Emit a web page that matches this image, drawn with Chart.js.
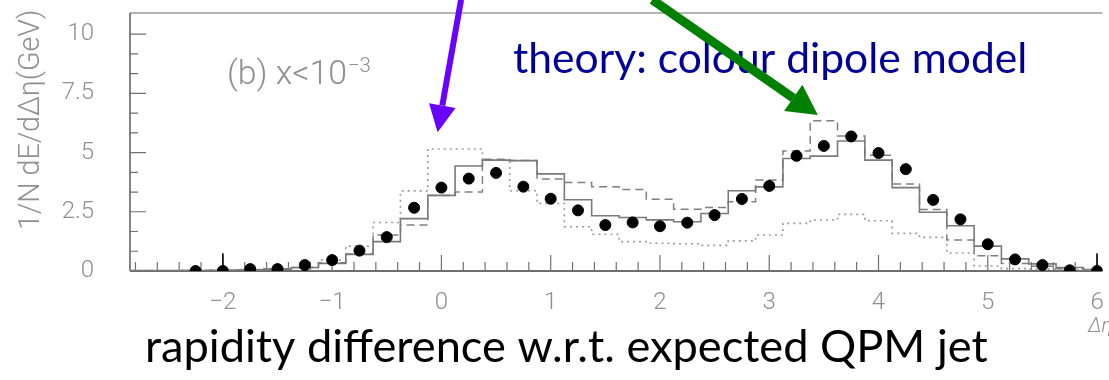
<!DOCTYPE html>
<html>
<head>
<meta charset="utf-8">
<script src="https://cdn.jsdelivr.net/npm/chart.js@4/dist/chart.umd.min.js"></script>
<style>
  html, body { margin: 0; padding: 0; background: #fff; }
  .wrap { position: relative; width: 1109px; height: 380px; }
</style>
</head>
<body>
<div class="wrap"><canvas id="chart" width="1109" height="380"></canvas></div>
<script>
// bin centres in delta eta, bin width 0.25
const etaBins = [-2.75, -2.5, -2.25, -2, -1.75, -1.5, -1.25, -1, -0.75, -0.5, -0.25, 0,
  0.25, 0.5, 0.75, 1, 1.25, 1.5, 1.75, 2, 2.25, 2.5, 2.75, 3,
  3.25, 3.5, 3.75, 4, 4.25, 4.5, 4.75, 5, 5.25, 5.5, 5.75, 6];
const binWidth = 0.25;

// measured points (black dots) and their errors
const dataPoints = [null, null, 0.0, 0.0, 0.08, 0.08, 0.25, 0.46, 0.86, 1.43, 2.67, 3.52,
  3.9, 4.14, 3.56, 3.05, 2.56, 1.94, 2.05, 1.89, 2.04, 2.36, 3.04, 3.59,
  4.86, 5.28, 5.68, 4.98, 4.3, 3.0, 2.18, 1.13, 0.49, 0.25, 0.03, 0.0];
const dataErrors = [0, 0, 0.05, 0.75, 0.05, 0.05, 0.06, 0.08, 0.1, 0.12, 0.15, 0.15,
  0.15, 0.15, 0.15, 0.15, 0.12, 0.12, 0.12, 0.12, 0.12, 0.12, 0.15, 0.15,
  0.18, 0.2, 0.2, 0.2, 0.22, 0.2, 0.15, 0.12, 0.08, 0.06, 0.05, 0.75];

// model histograms
const solidHist = [0.02, 0.02, 0.02, 0.03, 0.05, 0.08, 0.15, 0.32, 0.7, 1.24, 2.21, 3.19,
  4.43, 4.68, 4.66, 4.1, 3.01, 2.33, 2.26, 2.16, 2.08, 2.43, 3.39, 3.55,
  4.75, 4.85, 5.49, 4.68, 3.52, 2.48, 1.91, 1.05, 0.51, 0.3, 0.15, 0.06];
const dashedHist = [0.01, 0.01, 0.02, 0.03, 0.05, 0.08, 0.15, 0.35, 0.72, 1.52, 1.94, 3.19,
  3.33, 4.72, 4.66, 3.88, 3.74, 3.56, 3.44, 3.03, 2.61, 2.68, 2.92, 3.84,
  5.06, 6.34, 5.7, 4.89, 3.67, 2.6, 1.31, 0.64, 0.32, 0.2, 0.1, 0.05];
const dottedHist = [0.02, 0.02, 0.03, 0.04, 0.06, 0.1, 0.14, 0.46, 1.05, 2.05, 3.38, 5.15,
  5.15, 4.68, 3.39, 2.85, 1.87, 1.55, 1.24, 1.17, 1.15, 1.08, 1.27, 1.52,
  2.01, 2.15, 2.39, 2.12, 1.59, 1.42, 0.76, 0.21, 0.1, 0.08, 0.05, 0.03];

const xTicks = [-2, -1, 0, 1, 2, 3, 4, 5, 6];
const yTicks = [0, 2.5, 5, 7.5, 10];

// arrows in data units: [tailX, tailY, tipX, tipY]
const purpleArrow = [0.18, 11.45, -0.035, 5.86];
const greenArrow = [1.93, 11.45, 3.445, 6.58];

const grey = '#8f8f8f';
const axisCol = '#5a5a5a';

function histSteps(values) {
  const pts = etaBins.map((c, i) => ({ x: c - binWidth / 2, y: values[i] }));
  pts.push({ x: etaBins[etaBins.length - 1] + binWidth / 2, y: values[values.length - 1] });
  return pts;
}

function drawArrow(ctx, x1, y1, x2, y2, color, shaft, headLen, headW) {
  const ang = Math.atan2(y2 - y1, x2 - x1);
  const bx = x2 - headLen * Math.cos(ang);
  const by = y2 - headLen * Math.sin(ang);
  ctx.save();
  ctx.strokeStyle = color;
  ctx.fillStyle = color;
  ctx.lineWidth = shaft;
  ctx.beginPath();
  ctx.moveTo(x1, y1);
  ctx.lineTo(bx, by);
  ctx.stroke();
  ctx.beginPath();
  ctx.moveTo(x2, y2);
  ctx.lineTo(bx + headW / 2 * Math.sin(ang), by - headW / 2 * Math.cos(ang));
  ctx.lineTo(bx - headW / 2 * Math.sin(ang), by + headW / 2 * Math.cos(ang));
  ctx.closePath();
  ctx.fill();
  ctx.restore();
}

function fitText(ctx, text, family, weight, baseSize, width) {
  ctx.font = weight + ' ' + baseSize + 'px ' + family;
  const w = ctx.measureText(text).width;
  const size = baseSize * width / w;
  ctx.font = weight + ' ' + size.toFixed(1) + 'px ' + family;
  return size;
}

const frame = {
  id: 'frame',
  beforeDatasetsDraw(chart) {
    const { ctx, chartArea: a, scales: { x, y } } = chart;
    ctx.save();
    // top frame line
    ctx.strokeStyle = '#b4b4b4';
    ctx.lineWidth = 2;
    ctx.beginPath();
    ctx.moveTo(a.left, a.top);
    ctx.lineTo(a.right, a.top);
    ctx.stroke();
    // axes
    ctx.strokeStyle = axisCol;
    ctx.lineWidth = 1.5;
    ctx.beginPath();
    ctx.moveTo(a.left, a.top);
    ctx.lineTo(a.left, a.bottom);
    ctx.stroke();
    ctx.strokeStyle = '#6e6e6e';
    ctx.lineWidth = 2;
    ctx.beginPath();
    ctx.moveTo(a.left, a.bottom);
    ctx.lineTo(a.right, a.bottom);
    ctx.stroke();
    // inward ticks
    ctx.strokeStyle = '#707070';
    ctx.lineWidth = 1.2;
    ctx.beginPath();
    for (let k = 0; k <= 13; k++) {
      const v = k * 2.5 / 3;
      const py = y.getPixelForValue(v);
      if (py < a.top + 2) continue;
      const len = k % 3 === 0 ? 16 : 8;
      ctx.moveTo(a.left, py);
      ctx.lineTo(a.left + len, py);
    }
    for (let k = -14; k <= 30; k++) {
      const v = k * 0.2;
      const px = x.getPixelForValue(v);
      if (px < a.left + 2 || px > a.right) continue;
      const len = k % 5 === 0 ? 16 : 9;
      ctx.moveTo(px, a.bottom);
      ctx.lineTo(px, a.bottom - len);
    }
    ctx.stroke();
    ctx.restore();
  },
  afterDatasetsDraw(chart) {
    const { ctx, scales: { x, y } } = chart;
    ctx.save();
    ctx.strokeStyle = '#000';
    ctx.lineWidth = 1.5;
    ctx.beginPath();
    etaBins.forEach((c, i) => {
      if (dataPoints[i] === null || !dataErrors[i]) return;
      const px = x.getPixelForValue(c);
      ctx.moveTo(px, y.getPixelForValue(dataPoints[i] + dataErrors[i]));
      ctx.lineTo(px, y.getPixelForValue(Math.max(0, dataPoints[i] - dataErrors[i])));
    });
    ctx.stroke();
    ctx.restore();
  },
  afterDraw(chart) {
    const { ctx, scales: { x, y } } = chart;
    ctx.save();
    // y axis title
    ctx.fillStyle = grey;
    ctx.translate(39, 230);
    ctx.rotate(-Math.PI / 2);
    fitText(ctx, '1/N dE/d\u0394\u03b7(GeV)', 'Roboto', 300, 24, 220);
    ctx.textBaseline = 'alphabetic';
    ctx.fillText('1/N dE/d\u0394\u03b7(GeV)', 0, 0);
    ctx.restore();

    ctx.save();
    ctx.fillStyle = grey;
    const s = fitText(ctx, '(b) x<10', 'Roboto', 300, 24, 120);
    ctx.fillText('(b) x<10', 227, 84);
    ctx.font = '300 ' + (s * 0.6).toFixed(1) + 'px Roboto';
    ctx.fillText('\u22123', 348, 72);
    ctx.font = 'italic 300 20px Roboto';
    ctx.fillText('\u0394\u03b7', 1088, 332);

    ctx.fillStyle = '#000099';
    fitText(ctx, 'theory: colour dipole model', 'Lato', 400, 34, 514);
    ctx.fillText('theory: colour dipole model', 513, 73);
    ctx.fillStyle = '#000';
    fitText(ctx, 'rapidity difference w.r.t. expected QPM jet', 'Lato', 400, 34, 843);
    ctx.fillText('rapidity difference w.r.t. expected QPM jet', 145, 362);
    ctx.restore();

    drawArrow(ctx, x.getPixelForValue(purpleArrow[0]), y.getPixelForValue(purpleArrow[1]),
      x.getPixelForValue(purpleArrow[2]), y.getPixelForValue(purpleArrow[3]), '#6a00ff', 6, 27, 27);
    drawArrow(ctx, x.getPixelForValue(greenArrow[0]), y.getPixelForValue(greenArrow[1]),
      x.getPixelForValue(greenArrow[2]), y.getPixelForValue(greenArrow[3]), '#008000', 9, 30, 32);
  }
};

new Chart(document.getElementById('chart'), {
  type: 'scatter',
  data: {
    datasets: [
      {
        label: 'data',
        data: etaBins.map((c, i) => ({ x: c, y: dataPoints[i] })).filter(p => p.y !== null),
        backgroundColor: '#000',
        borderColor: '#000',
        pointRadius: 5.5,
        showLine: false
      },
      {
        label: 'solid',
        data: histSteps(solidHist),
        showLine: true,
        stepped: 'before',
        borderColor: '#7a7a7a',
        borderWidth: 1.6,
        pointRadius: 0
      },
      {
        label: 'dashed',
        data: histSteps(dashedHist),
        showLine: true,
        stepped: 'before',
        borderColor: '#808080',
        borderWidth: 1.5,
        borderDash: [8, 5],
        pointRadius: 0
      },
      {
        label: 'dotted',
        data: histSteps(dottedHist),
        showLine: true,
        stepped: 'before',
        borderColor: '#9a9a9a',
        borderWidth: 1.6,
        borderDash: [2, 4],
        pointRadius: 0
      }
    ]
  },
  options: {
    responsive: false,
    animation: false,
    devicePixelRatio: 1,
    layout: { padding: { top: 13, right: 0, left: 0, bottom: 0 } },
    plugins: { legend: { display: false }, tooltip: { enabled: false } },
    scales: {
      x: {
        type: 'linear',
        min: -2.85,
        max: 6.05,
        grid: { display: false },
        border: { display: false },
        afterBuildTicks: s => { s.ticks = xTicks.map(v => ({ value: v })); },
        afterFit: s => { s.height = 109; s.paddingLeft = 0; s.paddingRight = 0; },
        ticks: {
          padding: 10,
          color: grey,
          font: { family: 'Roboto', weight: 300, size: 24 },
          maxRotation: 0,
          callback: v => String(v).replace('-', '\u2212')
        }
      },
      y: {
        min: 0,
        max: 10.89,
        grid: { display: false },
        border: { display: false },
        afterBuildTicks: s => { s.ticks = yTicks.map(v => ({ value: v })); },
        afterFit: s => { s.width = 130; s.paddingTop = 0; s.paddingBottom = 0; },
        ticks: {
          padding: 28,
          color: grey,
          font: { family: 'Roboto', weight: 300, size: 24 },
          callback: v => String(v)
        }
      }
    }
  },
  plugins: [frame]
});
</script>
</body>
</html>
